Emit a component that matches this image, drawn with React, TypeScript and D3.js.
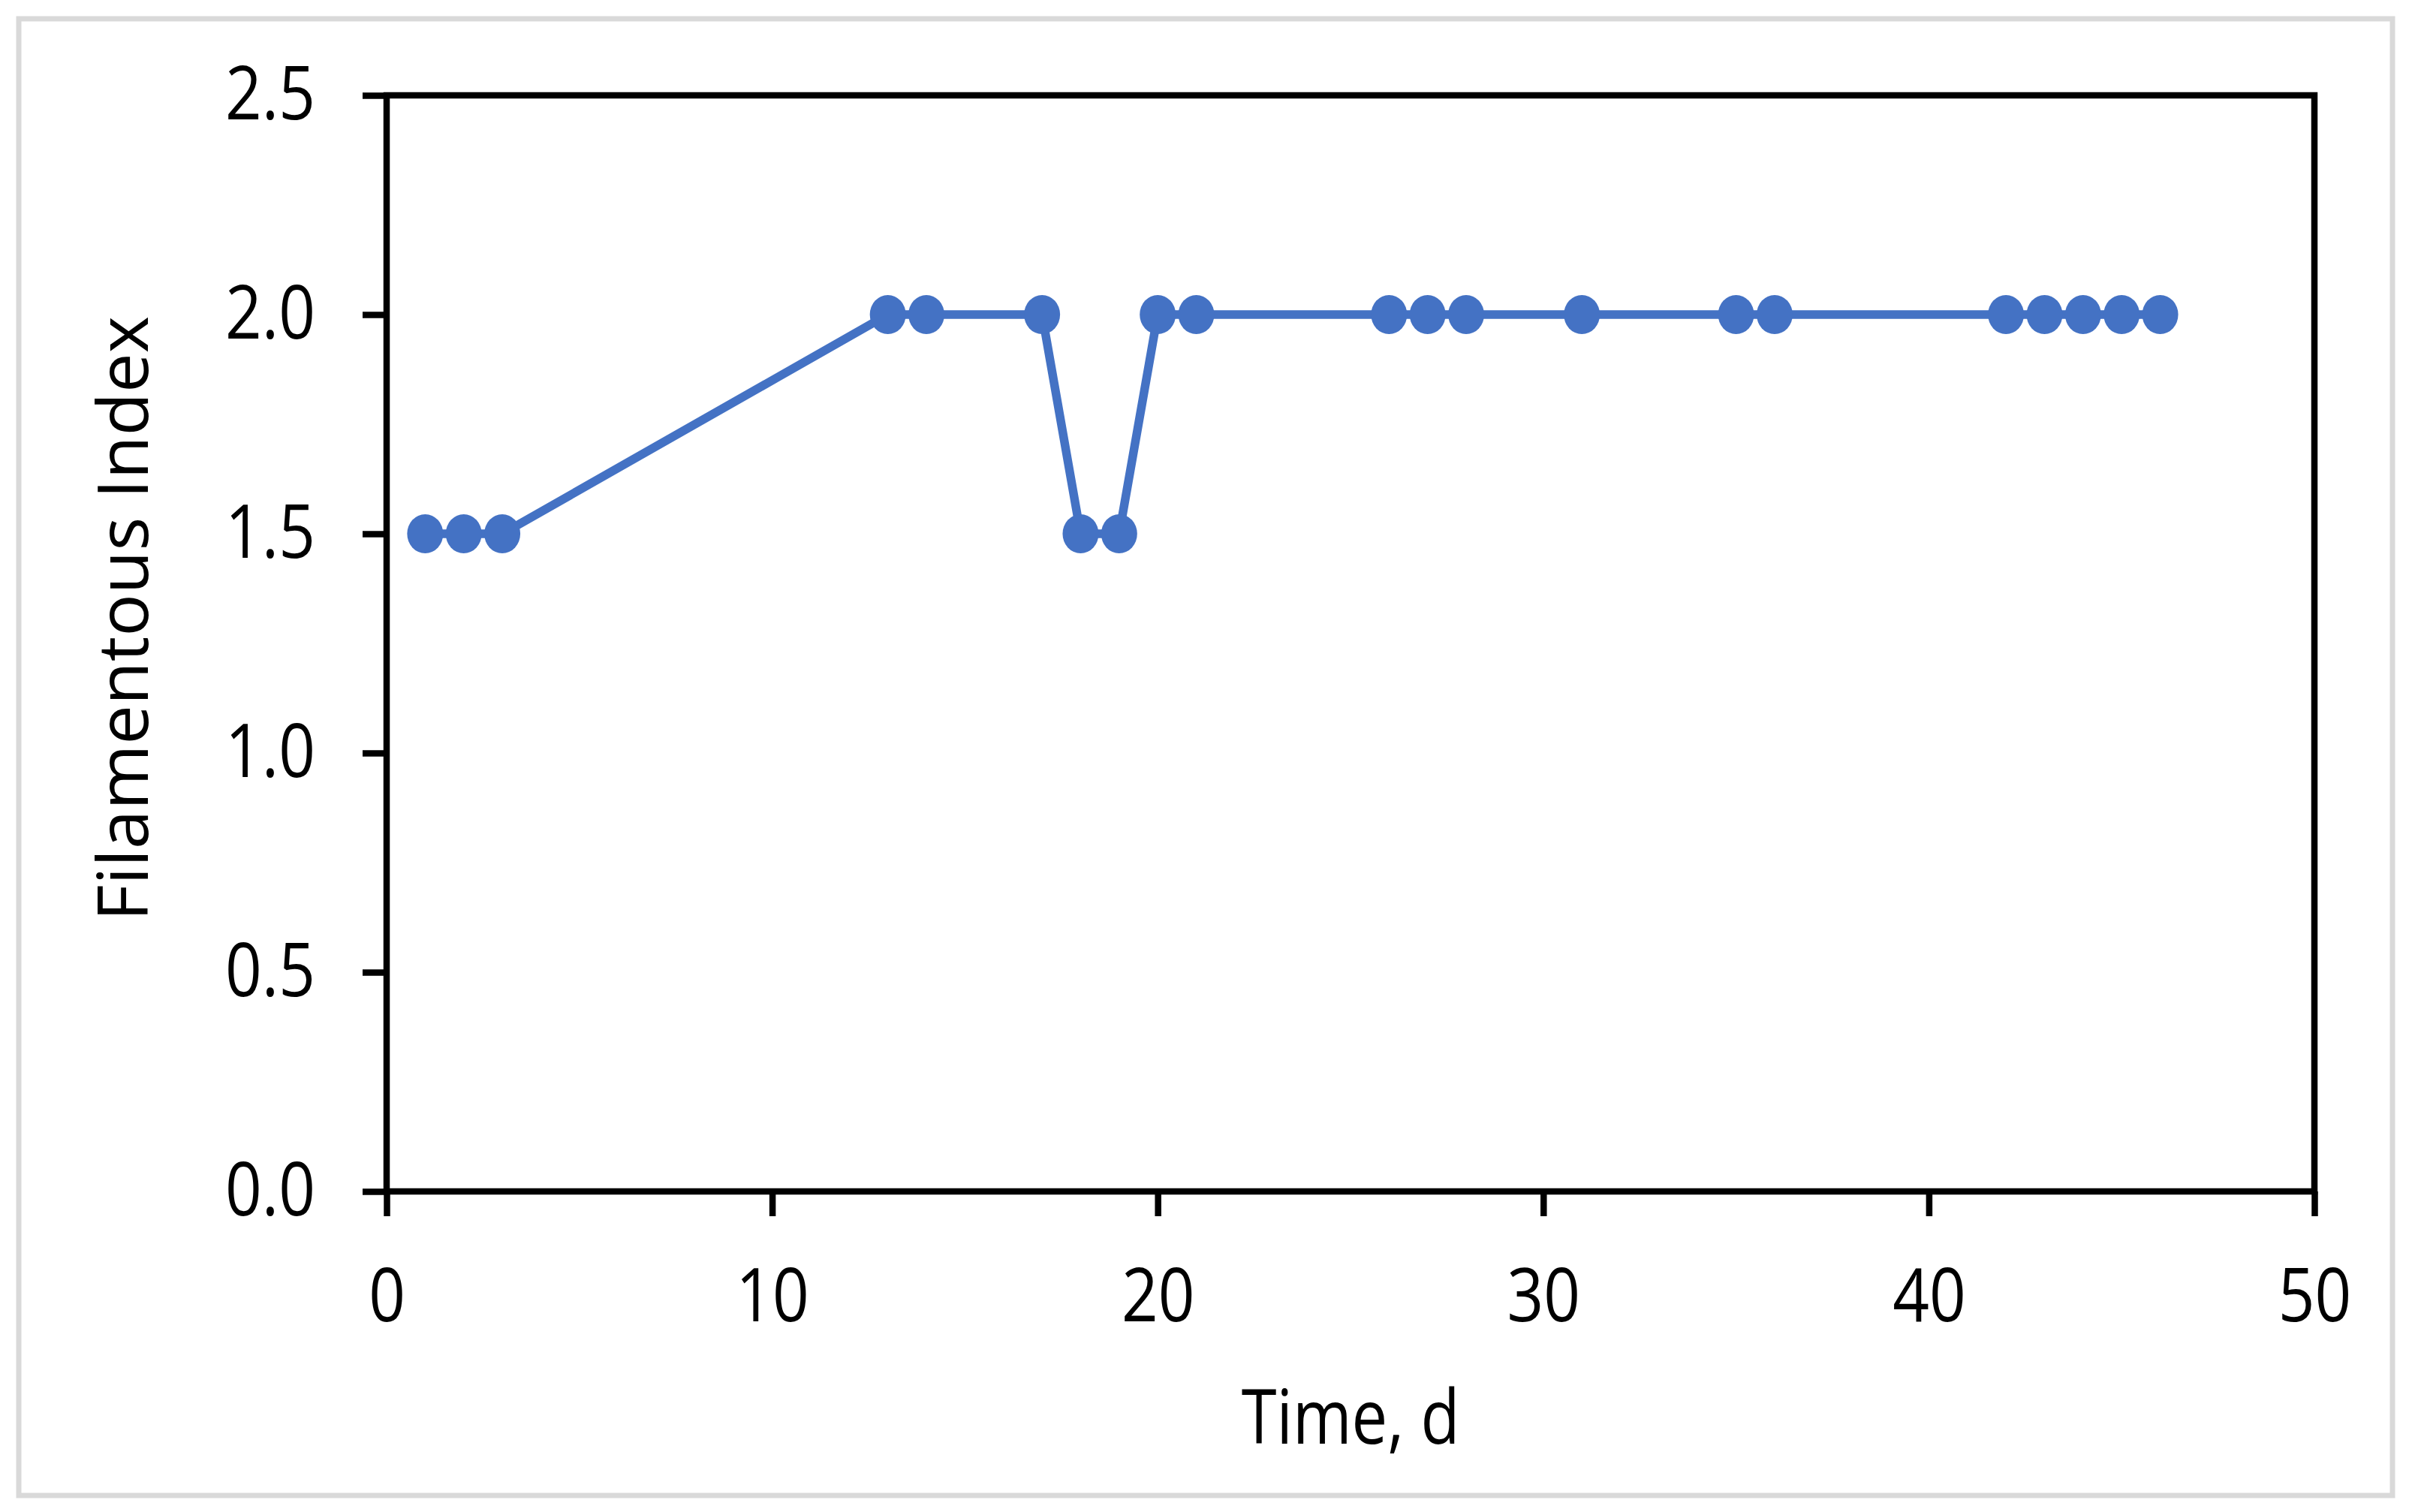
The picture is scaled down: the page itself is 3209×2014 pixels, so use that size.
import React, { useRef, useEffect } from 'react';
import * as d3 from 'd3';

// days sampled and the filamentous index read at each one
const days = [1, 2, 3, 13, 14, 17, 18, 19, 20, 21, 26, 27, 28, 31, 35, 36, 42, 43, 44, 45, 46];
const filamentIndex = [1.5, 1.5, 1.5, 2, 2, 2, 1.5, 1.5, 2, 2, 2, 2, 2, 2, 2, 2, 2, 2, 2, 2, 2];
const xTicks = [0, 10, 20, 30, 40, 50];
const yTicks = [0, 0.5, 1.0, 1.5, 2.0, 2.5];

const W = 3209;
const H = 2014;

const FilamentChart = () => {
  const chartRef = useRef<SVGSVGElement>(null);

  useEffect(() => {
    if (!chartRef.current) return;

    const margin = { top: 127, right: 126, bottom: 427, left: 515 };
    const font = '"Open Sans", "Noto Sans", sans-serif';
    const blue = '#4472C4';
    const squeeze = 0.87; // the original font is narrower than Open Sans
    const fontSize = 98;

    const svg = d3.select(chartRef.current)
      .attr('width', W)
      .attr('height', H)
      .html('');

    svg.append('rect')
      .attr('width', W)
      .attr('height', H)
      .attr('fill', '#fff');

    // light grey frame round the whole chart
    svg.append('rect')
      .attr('x', 25)
      .attr('y', 25)
      .attr('width', 3187 - 25)
      .attr('height', 1992 - 25)
      .attr('fill', 'none')
      .attr('stroke', '#d9d9d9')
      .attr('stroke-width', 7);

    const xScale = d3.scaleLinear()
      .domain([0, 50])
      .range([margin.left, W - margin.right]);

    const yScale = d3.scaleLinear()
      .domain([0, 2.5])
      .range([H - margin.bottom, margin.top]);

    const data = days.map((d, i) => ({ day: d, value: filamentIndex[i] }));

    // plot box
    svg.append('rect')
      .attr('x', xScale(0))
      .attr('y', yScale(2.5))
      .attr('width', xScale(50) - xScale(0))
      .attr('height', yScale(0) - yScale(2.5))
      .attr('fill', 'none')
      .attr('stroke', '#000')
      .attr('stroke-width', 8.5);

    const xAxis = svg.append('g')
      .attr('transform', `translate(0,${yScale(0)})`)
      .call(d3.axisBottom(xScale).tickValues(xTicks).tickSize(33).tickSizeOuter(0).tickPadding(70).tickFormat(d3.format('d')));

    const yAxis = svg.append('g')
      .attr('transform', `translate(${xScale(0)},0)`)
      .call(d3.axisLeft(yScale).tickValues(yTicks).tickSize(32).tickSizeOuter(0).tickPadding(63).tickFormat(d3.format('.1f')));

    [xAxis, yAxis].forEach(ax => {
      ax.select('.domain').remove();
      ax.selectAll('line').attr('stroke', '#000').attr('stroke-width', 8.5);
      ax.selectAll('text')
        .attr('fill', '#000')
        .attr('font-family', font)
        .attr('font-size', fontSize)
        .attr('transform', `scale(${squeeze},1)`);
    });
    // keep the y labels' right edge where it was before squeezing
    yAxis.selectAll('text').attr('x', -(32 + 63) / squeeze);

    const line = d3.line<{ day: number; value: number }>()
      .x(d => xScale(d.day))
      .y(d => yScale(d.value));

    svg.append('path')
      .datum(data)
      .attr('d', line)
      .attr('fill', 'none')
      .attr('stroke', blue)
      .attr('stroke-width', 11.5)
      .attr('stroke-linejoin', 'round');

    svg.selectAll('.pt')
      .data(data)
      .enter().append('ellipse')
      .attr('class', 'pt')
      .attr('cx', d => xScale(d.day))
      .attr('cy', d => yScale(d.value))
      .attr('rx', 24)
      .attr('ry', 26)
      .attr('fill', blue);

    // axis titles
    svg.append('text')
      .attr('transform', `translate(${(xScale(0) + xScale(50)) / 2},1923) scale(0.85,1)`)
      .attr('text-anchor', 'middle')
      .attr('font-family', font)
      .attr('font-size', 100)
      .attr('fill', '#000')
      .text('Time, d');

    svg.append('text')
      .attr('transform', `translate(197,824) rotate(-90)`)
      .attr('text-anchor', 'middle')
      .attr('font-family', font)
      .attr('font-size', 94)
      .attr('fill', '#000')
      .text('Filamentous Index');
  }, []);

  return (
    <div style={{ position: 'absolute', left: 0, top: 0 }}>
      <svg ref={chartRef} style={{ display: 'block' }}></svg>
    </div>
  );
};

export default function App() {
  return <FilamentChart />;
}
